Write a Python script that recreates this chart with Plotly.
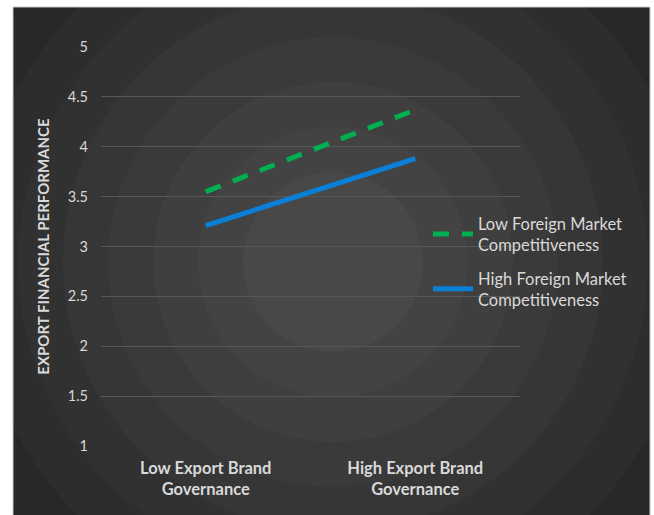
import plotly.graph_objects as go

# Data
categories = ["Low Export Brand<br>Governance", "High Export Brand<br>Governance"]
low_competition = [3.55, 4.37]
high_competition = [3.21, 3.88]
series_names = ["Low Foreign Market<br>Competitiveness", "High Foreign Market<br>Competitiveness"]
y_ticks = [1, 1.5, 2, 2.5, 3, 3.5, 4, 4.5, 5]

W, H = 654, 515
ML, MR, MT, MB = 101, 134, 47, 69
PW, PH = W - ML - MR, H - MT - MB

def px_to_paper(x, y):
    return (x - ML) / PW, 1 - (y - MT) / PH

FONT = "Lato"
TXT = "#d9d9d9"

fig = go.Figure()
fig.add_trace(go.Scatter(
    x=categories, y=low_competition, mode="lines", name=series_names[0],
    legendgroup="low",
    line=dict(color="#00b050", width=5, dash="16px,13px"),
))
fig.add_trace(go.Scatter(
    x=categories, y=high_competition, mode="lines", name=series_names[1],
    legendgroup="high",
    line=dict(color="#0a7fd8", width=5),
))

# radial banded background
shapes = []
cx, cy = px_to_paper(333, 262)
n_bands = 9
for i in range(n_bands):
    r = 450 - i * 45
    g = int(36 + (72 - 36) * i / (n_bands - 1))
    col = f"rgb({g},{g},{g})"
    shapes.append(dict(
        type="circle", xref="paper", yref="paper", xsizemode="pixel", ysizemode="pixel",
        xanchor=cx, yanchor=cy, x0=-r, x1=r, y0=-r, y1=r,
        fillcolor=col, line=dict(width=0), layer="below",
    ))

# white surround outside the dark panel
def rect_px(x0, y0, x1, y1, color="white"):
    a0, b0 = px_to_paper(x0, y0)
    a1, b1 = px_to_paper(x1, y1)
    return dict(type="rect", xref="paper", yref="paper", x0=a0, x1=a1, y0=b1, y1=b0,
                fillcolor=color, line=dict(width=0), layer="below")

def line_px(x0, y0, x1, y1):
    a0, b0 = px_to_paper(x0, y0)
    a1, b1 = px_to_paper(x1, y1)
    return dict(type="line", xref="paper", yref="paper", x0=a0, x1=a1, y0=b0, y1=b1,
                line=dict(color="#c8c8c8", width=1), layer="below")

shapes.append(rect_px(0, 0, 13, H))
shapes.append(rect_px(650, 0, W, H))
shapes.append(rect_px(0, 0, W, 7))
shapes.append(line_px(13, 7, 13, H))
shapes.append(line_px(650, 7, 650, H))
shapes.append(line_px(13, 7, 650, 7))

lx, ly = px_to_paper(428, 206)

fig.update_layout(
    width=W, height=H,
    margin=dict(l=ML, r=MR, t=MT, b=MB),
    paper_bgcolor="white", plot_bgcolor="rgba(0,0,0,0)",
    font=dict(family=FONT, color=TXT, size=14),
    shapes=shapes,
    showlegend=True,
    legend=dict(x=lx, y=ly, xanchor="left", yanchor="top", bgcolor="rgba(0,0,0,0)",
                font=dict(family=FONT, size=16.5, color=TXT), tracegroupgap=9,
                itemwidth=40),
    xaxis=dict(type="category", range=[-0.5, 1.5], showgrid=False, showline=False,
               zeroline=False, ticks="",
               tickfont=dict(family=FONT, size=16.5, color=TXT, weight="bold"),
               ticklabelstandoff=10),
    yaxis=dict(range=[1, 5], tickvals=y_ticks, ticktext=[f"{v:g}" for v in y_ticks],
               showgrid=True, gridcolor="#575757", gridwidth=1, zeroline=False,
               showline=False, ticks="", ticklabelstandoff=12,
               tickfont=dict(family=FONT, size=14.5, color=TXT),
               title=dict(text="EXPORT FINANCIAL PERFORMANCE", standoff=14,
                          font=dict(family=FONT, size=15, color=TXT, weight="bold"))),
)

fig.write_html("out.html")
